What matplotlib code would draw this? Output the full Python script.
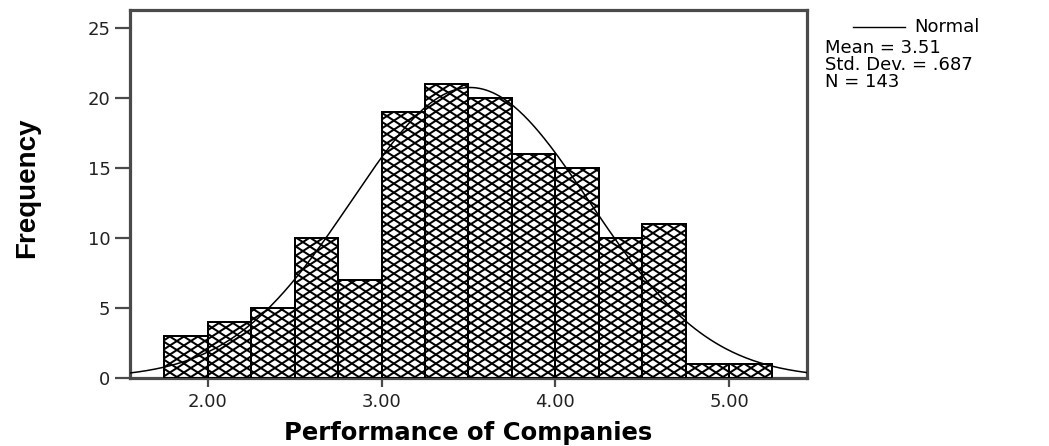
import numpy as np
import matplotlib
matplotlib.use("Agg")
import matplotlib.pyplot as plt
from matplotlib.collections import LineCollection
from matplotlib.lines import Line2D
from matplotlib.path import Path
from matplotlib import font_manager

# -----------------------------
# Data
# -----------------------------
bin_edges = [1.75, 2.00, 2.25, 2.50, 2.75, 3.00, 3.25, 3.50, 3.75, 4.00, 4.25, 4.50, 4.75, 5.00, 5.25]
frequencies = [3, 4, 5, 10, 7, 19, 21, 20, 16, 15, 10, 11, 1, 1]
x_ticks = [2.0, 3.0, 4.0, 5.0]
x_tick_labels = ["2.00", "3.00", "4.00", "5.00"]
y_ticks = [0, 5, 10, 15, 20, 25]

# normal fit shown next to the plot
MEAN = 3.51
STD_DEV = 0.687
N_OBS = 143

# -----------------------------
# Style
# -----------------------------
SPINE_GREY = "#4a4a4a"
HATCH_DX = 0.0806   # diamond width, x units
HATCH_DY = 0.643    # diamond height, counts
XLIM = (1.552, 5.449)
YLIM = (0, 26.3)

available = {f.name for f in font_manager.fontManager.ttflist}
narrow = "Liberation Sans Narrow" if "Liberation Sans Narrow" in available else "Liberation Sans"
plt.rcParams["font.family"] = ["DejaVu Sans"]

fig = plt.figure(figsize=(10.49, 4.46), dpi=100)
ax = fig.add_axes([0.1239, 0.1525, 0.6454, 0.8251])

# -----------------------------
# Histogram bars
# -----------------------------
widths = np.diff(bin_edges)
bars = ax.bar(bin_edges[:-1], frequencies, width=widths, align="edge",
              facecolor="white", edgecolor="black", linewidth=1.3, zorder=2)

# cross-hatching at a shallow angle, clipped to the bars
slope = HATCH_DY / HATCH_DX
top = max(frequencies) + 1
run = top / slope
segs = []
for x0 in np.arange(bin_edges[0] - run - HATCH_DX, bin_edges[-1] + HATCH_DX, HATCH_DX):
    segs.append([(x0, 0), (x0 + run, top)])
for x0 in np.arange(bin_edges[0] - HATCH_DX, bin_edges[-1] + run + HATCH_DX, HATCH_DX):
    segs.append([(x0, 0), (x0 - run, top)])

clip = Path.make_compound_path(*[b.get_path().transformed(b.get_patch_transform()) for b in bars])
hatch = LineCollection(segs, colors="black", linewidths=1.45, zorder=3)
ax.add_collection(hatch, autolim=False)
hatch.set_clip_path(clip, ax.transData)

# bar outlines again on top of the hatch
ax.bar(bin_edges[:-1], frequencies, width=widths, align="edge",
       facecolor="none", edgecolor="black", linewidth=1.3, zorder=3.5)

# -----------------------------
# Normal curve scaled to counts
# -----------------------------
bin_w = widths[0]
xs = np.linspace(XLIM[0], XLIM[1], 400)
ys = N_OBS * bin_w * np.exp(-0.5 * ((xs - MEAN) / STD_DEV) ** 2) / (STD_DEV * np.sqrt(2 * np.pi))
ax.plot(xs, ys, color="black", linewidth=1.1, zorder=4)

# -----------------------------
# Axes
# -----------------------------
ax.set_xlim(*XLIM)
ax.set_ylim(*YLIM)
ax.set_xticks(x_ticks)
ax.set_xticklabels(x_tick_labels)
ax.set_yticks(y_ticks)
for s in ax.spines.values():
    s.set_color(SPINE_GREY)
    s.set_linewidth(2.3)
ax.tick_params(axis="x", length=6.5, width=1.6, color=SPINE_GREY, pad=4,
               labelsize=13, labelcolor="#222222")
ax.tick_params(axis="y", length=11, width=1.6, color=SPINE_GREY, pad=3,
               labelsize=13, labelcolor="#222222")

ax.set_xlabel("Performance of Companies", fontsize=17.5, fontweight="bold", va="baseline")
ax.xaxis.set_label_coords(0.5, -0.168)
ax.set_ylabel("Frequency", fontsize=20, fontweight="bold", va="center",
              family=[narrow, "DejaVu Sans"])
ax.yaxis.set_label_coords(-0.152, 0.516)

# -----------------------------
# Legend block
# -----------------------------
leg_y = 1 - 27 / 446
fig.add_artist(Line2D([853 / 1049, 905 / 1049], [leg_y, leg_y],
                      transform=fig.transFigure, color="black", linewidth=1.0))
fig.text(914 / 1049, leg_y, "Normal", fontsize=13, va="center", ha="left")
fig.text(825 / 1049, 1 - 39 / 446,
         f"Mean = {MEAN:.2f}\nStd. Dev. = {str(STD_DEV)[1:]}\nN = {N_OBS}",
         fontsize=13, va="top", ha="left", linespacing=0.92)

fig.savefig("out.png", dpi=100)
